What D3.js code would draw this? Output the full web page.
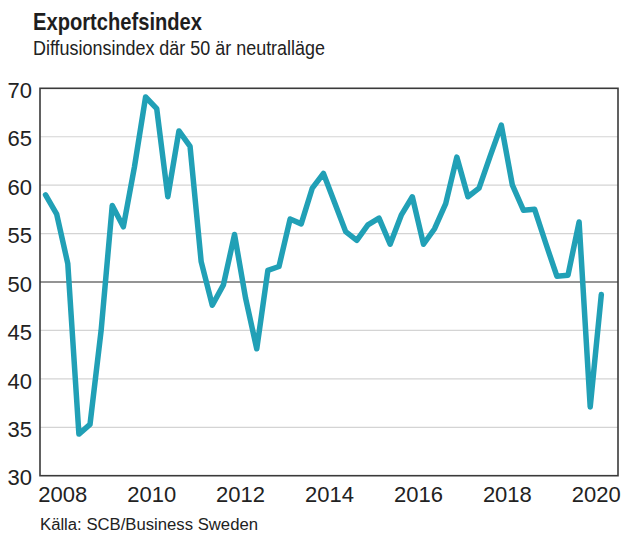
<!DOCTYPE html>
<html>
<head>
<meta charset="utf-8">
<script src="https://cdn.jsdelivr.net/npm/d3@7"></script>
<style>
  html, body { margin: 0; padding: 0; background: #fff; }
  svg { display: block; font-family: "Liberation Sans", Arial, Helvetica, sans-serif; }
</style>
</head>
<body>
<svg id="chart" width="622" height="536"></svg>
<script>
// ---- Data ----
const title = "Exportchefsindex";
const subtitle = "Diffusionsindex där 50 är neutralläge";
const source = "Källa: SCB/Business Sweden";

// Quarterly observations, 2008 K1 – 2020 K3
const quarters = [];
for (let yr = 2008; yr <= 2020; yr++) for (let q = 1; q <= 4; q++) quarters.push(yr + "K" + q);
const values = [
  59.0, 57.0, 51.9, 34.3,
  35.3, 45.0, 57.9, 55.7,
  61.9, 69.1, 67.9, 58.8,
  65.6, 64.0, 52.1, 47.6,
  49.7, 54.9, 48.3, 43.1,
  51.2, 51.6, 56.5, 56.0,
  59.7, 61.2, 58.2, 55.2,
  54.3, 55.9, 56.6, 53.9,
  56.9, 58.8, 53.9, 55.5,
  58.1, 62.9, 58.8, 59.7,
  63.0, 66.2, 60.0, 57.4,
  57.5, 54.0, 50.6, 50.7,
  56.2, 37.1, 48.7
];
const yearTicks = [2008, 2010, 2012, 2014, 2016, 2018, 2020];
const valueTicks = [30, 35, 40, 45, 50, 55, 60, 65, 70];
const neutral = 50;

// ---- Layout ----
const svg = d3.select("#chart");
const pL = 40, pR = 618, pT = 88.3, pB = 475.7;

const x = d3.scaleLinear().domain([2008, 2021]).range([pL, pR]);
const y = d3.scaleLinear().domain([30, 70]).range([pB, pT]);

function qTime(label) {
  const yr = +label.slice(0, 4), q = +label.slice(5);
  return yr + (q - 0.5) / 4;
}
const data = values.map((v, i) => ({ t: qTime(quarters[i]), v }));

// gridlines
svg.append("g")
  .selectAll("line")
  .data(valueTicks.filter(d => d !== neutral && d !== 30 && d !== 70))
  .join("line")
  .attr("x1", pL).attr("x2", pR)
  .attr("y1", d => y(d)).attr("y2", d => y(d))
  .attr("stroke", "#d4d4d4").attr("stroke-width", 1.2);

// neutral line
svg.append("line")
  .attr("x1", pL).attr("x2", pR)
  .attr("y1", y(neutral)).attr("y2", y(neutral))
  .attr("stroke", "#2b2b2b").attr("stroke-width", 1.2);

// frame
svg.append("rect")
  .attr("x", pL).attr("y", pT)
  .attr("width", pR - pL).attr("height", pB - pT)
  .attr("fill", "none").attr("stroke", "#3a3a3a").attr("stroke-width", 1.6);

// y axis labels
const yAxis = d3.axisLeft(y).tickValues(valueTicks).tickSize(0).tickPadding(8);
svg.append("g")
  .attr("transform", `translate(${pL},0)`)
  .call(yAxis)
  .call(g => g.select(".domain").remove())
  .call(g => g.selectAll("text")
    .attr("font-size", 22).attr("fill", "#222")
    .attr("font-family", "'Liberation Sans', Arial, sans-serif")
    .attr("dy", "0.42em"));

// x axis labels (centred in each year)
const xAxis = d3.axisBottom(x).tickValues(yearTicks.map(d => d + 0.5))
  .tickFormat(d => String(Math.floor(d))).tickSize(0).tickPadding(11);
svg.append("g")
  .attr("transform", `translate(0,${pB})`)
  .call(xAxis)
  .call(g => g.select(".domain").remove())
  .call(g => g.selectAll("text")
    .attr("font-size", 22).attr("fill", "#222")
    .attr("font-family", "'Liberation Sans', Arial, sans-serif"));

// line
const line = d3.line().x(d => x(d.t)).y(d => y(d.v));
svg.append("path")
  .datum(data)
  .attr("d", line)
  .attr("fill", "none")
  .attr("stroke", "#21a0b6")
  .attr("stroke-width", 5.5)
  .attr("stroke-linejoin", "round")
  .attr("stroke-linecap", "round");

// titles
svg.append("text")
  .attr("x", 33).attr("y", 30)
  .attr("font-size", 24).attr("font-weight", "bold").attr("fill", "#1e1e1e")
  .attr("textLength", 169).attr("lengthAdjust", "spacingAndGlyphs")
  .text(title);
svg.append("text")
  .attr("x", 33).attr("y", 55)
  .attr("font-size", 20.5).attr("fill", "#222")
  .attr("textLength", 292).attr("lengthAdjust", "spacingAndGlyphs")
  .text(subtitle);
svg.append("text")
  .attr("x", 40).attr("y", 530)
  .attr("font-size", 16).attr("fill", "#222")
  .attr("textLength", 218).attr("lengthAdjust", "spacingAndGlyphs")
  .text(source);
</script>
</body>
</html>
